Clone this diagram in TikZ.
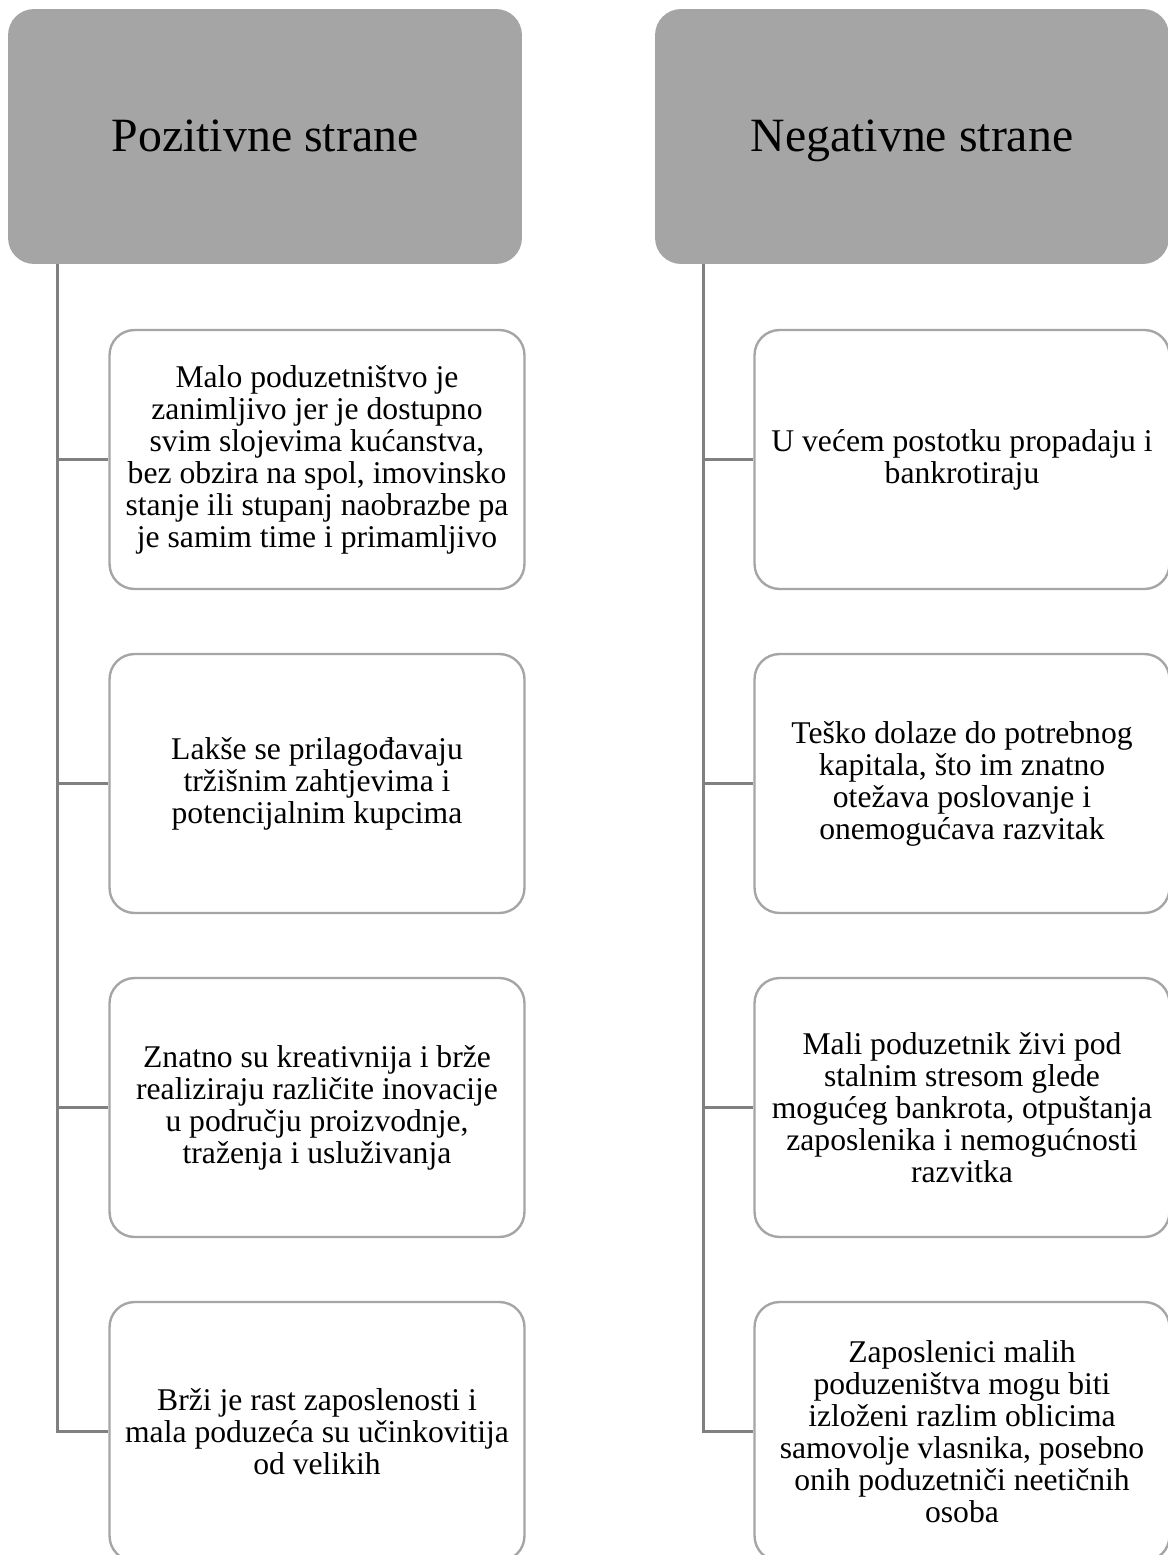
\documentclass[tikz,border=0pt]{standalone}
\usepackage{fontspec}
\setmainfont{Liberation Serif}
\usepackage{tikz}

\definecolor{headgray}{HTML}{A5A5A5}
\definecolor{boxgray}{HTML}{A5A5A5}
\definecolor{trunkgray}{HTML}{808080}

\tikzset{
  headbox/.style={fill=headgray, rounded corners=0.52cm, minimum width=10.28cm,
    minimum height=5.1cm, inner sep=0pt, text height=22pt, text depth=4.4pt,
    font=\fontsize{27.2}{30}\selectfont},
  itembox/.style={draw=boxgray, fill=white, line width=1.35pt, rounded corners=0.5cm,
    minimum width=8.3cm, minimum height=5.18cm, align=center, inner sep=0pt,
    font=\fontsize{18}{18.2}\selectfont},
  conn/.style={draw=trunkgray, line width=1.4pt}
}

\begin{document}
\begin{tikzpicture}[x=0.02cm,y=-0.02cm]
    % page size of the reference
    \useasboundingbox (0,0) rectangle (1168,1555);
    \clip (0,0) rectangle (1168,1555);

    % Headers
    \node[headbox] (hpos) at (265,136.5) {Pozitivne strane};
    \node[headbox] (hneg) at (912,136.5) {Negativne strane};

    % Left column: positive sides
    \node[itembox] (p1) at (317,459.5) {Malo poduzetništvo je\\ zanimljivo jer je dostupno\\ svim slojevima kućanstva,\\ bez obzira na spol, imovinsko\\ stanje ili stupanj naobrazbe pa\\ je samim time i primamljivo};
    \node[itembox] (p2) at (317,783.5) {Lakše se prilagođavaju\\ tržišnim zahtjevima i\\ potencijalnim kupcima};
    \node[itembox] (p3) at (317,1107.5) {Znatno su kreativnija i brže\\ realiziraju različite inovacije\\ u području proizvodnje,\\ traženja i usluživanja};
    \node[itembox] (p4) at (317,1431.5) {Brži je rast zaposlenosti i\\ mala poduzeća su učinkovitija\\ od velikih};

    % Right column: negative sides
    \node[itembox] (n1) at (962,459.5) {U većem postotku propadaju i\\ bankrotiraju};
    \node[itembox] (n2) at (962,783.5) {Teško dolaze do potrebnog\\ kapitala, što im znatno\\ otežava poslovanje i\\ onemogućava razvitak};
    \node[itembox] (n3) at (962,1107.5) {Mali poduzetnik živi pod\\ stalnim stresom glede\\ mogućeg bankrota, otpuštanja\\ zaposlenika i nemogućnosti\\ razvitka};
    \node[itembox] (n4) at (962,1431.5) {Zaposlenici malih\\ poduzeništva mogu biti\\ izloženi razlim oblicima\\ samovolje vlasnika, posebno\\ onih poduzetniči neetičnih\\ osoba};

    % Trunk lines from the headers
    \coordinate (tpos) at ([xshift=1cm]hpos.south west);
    \coordinate (tneg) at ([xshift=0.98cm]hneg.south west);
    \foreach \i in {1,...,4} {
      \draw[conn] (tpos) |- (p\i.west);
      \draw[conn] (tneg) |- (n\i.west);
    }

\end{tikzpicture}
\end{document}
